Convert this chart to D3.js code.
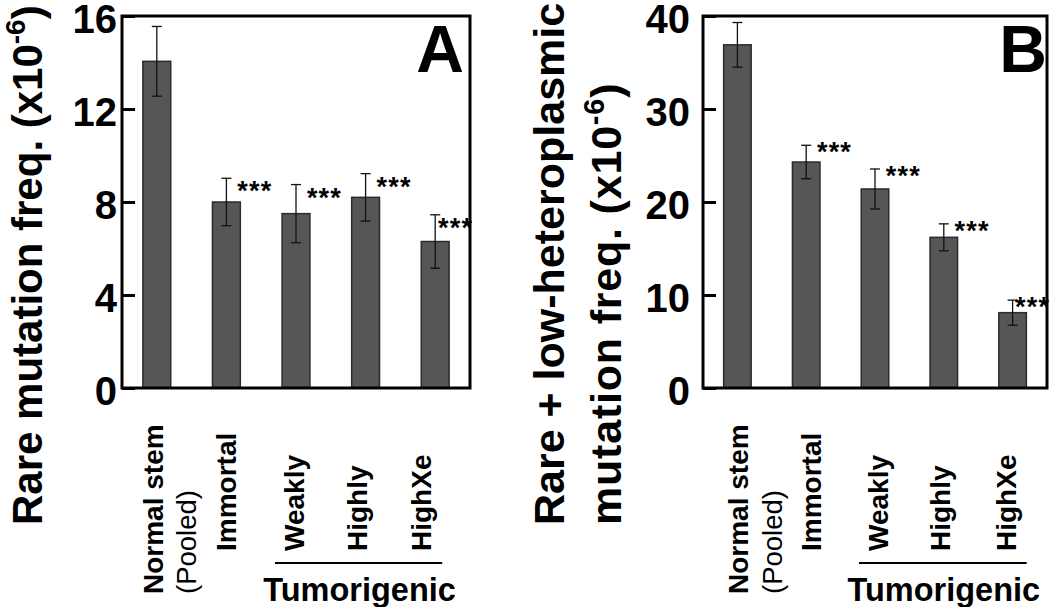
<!DOCTYPE html>
<html>
<head>
<meta charset="utf-8">
<script src="https://cdn.jsdelivr.net/npm/d3@7"></script>
<style>
  html, body { margin: 0; padding: 0; background: #ffffff; }
  svg { display: block; }
  text { font-family: "Liberation Sans", Arial, Helvetica, sans-serif; }
</style>
</head>
<body>
<svg id="chart" width="1050" height="607"></svg>
<script>
// ---------------- data ----------------
const categories = ["Normal stem", "Immortal", "Weakly", "Highly", "HighXe"];
const subLabels = ["(Pooled)", "", "", "", ""];
const groupLabel = "Tumorigenic";
const groupMembers = ["Weakly", "Highly", "HighXe"];

const rareMean = [14.05, 8.0, 7.5, 8.2, 6.3];
const rareErr = [1.5, 1.02, 1.25, 1.02, 1.15];

const combinedMean = [36.9, 24.3, 21.4, 16.2, 8.1];
const combinedErr = [2.4, 1.8, 2.15, 1.45, 1.35];

const significance = ["", "***", "***", "***", "***"];

const ticksA = [0, 4, 8, 12, 16];
const ticksB = [0, 10, 20, 30, 40];

// ---------------- drawing ----------------
const svg = d3.select("#chart");
const FONT = '"Liberation Sans", Arial, Helvetica, sans-serif';
const barFill = "#565658";
const barStroke = "#2b2b2b";

function panel(cfg) {
  const g = svg.append("g");
  const x = d3.scaleBand().domain(categories)
    .range([cfg.left, cfg.right]).paddingInner(0.6).paddingOuter(0.3);
  const y = d3.scaleLinear().domain([0, d3.max(cfg.ticks)]).range([cfg.bottom, cfg.top]);
  const rows = categories.map((c, i) => ({ c, i, m: cfg.mean[i], e: cfg.err[i], s: significance[i] }));

  // bars
  g.selectAll("rect.bar").data(rows).join("rect")
    .attr("class", "bar")
    .attr("x", d => x(d.c))
    .attr("y", d => y(d.m))
    .attr("width", x.bandwidth())
    .attr("height", d => y(0) - y(d.m))
    .attr("fill", barFill)
    .attr("stroke", barStroke)
    .attr("stroke-width", 1.5);

  // error bars
  const cap = 5;
  const eb = g.selectAll("g.err").data(rows).join("g").attr("class", "err")
    .attr("stroke", "#111").attr("stroke-width", 1.3);
  eb.append("line")
    .attr("x1", d => x(d.c) + x.bandwidth() / 2).attr("x2", d => x(d.c) + x.bandwidth() / 2)
    .attr("y1", d => y(d.m + d.e)).attr("y2", d => y(d.m - d.e));
  eb.append("line")
    .attr("x1", d => x(d.c) + x.bandwidth() / 2 - cap).attr("x2", d => x(d.c) + x.bandwidth() / 2 + cap)
    .attr("y1", d => y(d.m + d.e)).attr("y2", d => y(d.m + d.e));
  eb.append("line")
    .attr("x1", d => x(d.c) + x.bandwidth() / 2 - cap).attr("x2", d => x(d.c) + x.bandwidth() / 2 + cap)
    .attr("y1", d => y(d.m - d.e)).attr("y2", d => y(d.m - d.e));

  // significance stars
  g.selectAll("text.sig").data(rows.filter(d => d.s)).join("text")
    .attr("class", "sig")
    .attr("x", d => Math.min(x(d.c) + x.bandwidth() - 3, cfg.right - 32))
    .attr("y", d => y(d.m + d.e) + cfg.starDy + 12)
    .attr("font-size", 27)
    .attr("font-weight", "bold")
    .attr("letter-spacing", 1.2)
    .attr("fill", "#000")
    .text(d => d.s);

  // y axis (ticks pointing inward)
  const axis = d3.axisLeft(y).tickValues(cfg.ticks).tickSizeInner(-13).tickSizeOuter(0)
    .tickPadding(cfg.labelGap).tickFormat(d3.format("d"));
  const ag = g.append("g").attr("transform", `translate(${cfg.left},0)`).call(axis);
  ag.select(".domain").remove();
  ag.selectAll(".tick line").attr("stroke", "#000").attr("stroke-width", 3);
  ag.selectAll(".tick text")
    .attr("font-family", FONT).attr("font-size", 40).attr("font-weight", "bold")
    .attr("fill", "#000").attr("dy", "0.4em");

  // frame
  g.append("rect")
    .attr("x", cfg.left).attr("y", cfg.top)
    .attr("width", cfg.right - cfg.left).attr("height", cfg.bottom - cfg.top)
    .attr("fill", "none").attr("stroke", "#000").attr("stroke-width", 3);

  // panel letter
  g.append("text")
    .attr("x", cfg.letterX).attr("y", 72)
    .attr("text-anchor", "end")
    .attr("font-size", 66).attr("font-weight", "bold")
    .text(cfg.letter);

  // category labels (rotated)
  rows.forEach((d, i) => {
    const bx = x(d.c) + x.bandwidth() / 2 + cfg.labelShift[i];
    const startY = subLabels[i] ? 594 : 551;
    g.append("text")
      .attr("transform", `translate(${bx},${startY}) rotate(-90)`)
      .attr("font-size", 28).attr("font-weight", "bold")
      .text(d.c);
    if (subLabels[i]) {
      g.append("text")
        .attr("transform", `translate(${bx + 33.5},${startY}) rotate(-90)`)
        .attr("font-size", 27.5).attr("font-weight", "normal")
        .text(subLabels[i]);
    }
  });

  // group underline + label
  const firstIdx = categories.indexOf(groupMembers[0]);
  const lastIdx = categories.indexOf(groupMembers[groupMembers.length - 1]);
  const gx1 = x(categories[firstIdx]) + x.bandwidth() / 2 + cfg.labelShift[firstIdx] - 29;
  const gx2 = x(categories[lastIdx]) + x.bandwidth() / 2 + cfg.labelShift[lastIdx] + 11;
  g.append("line")
    .attr("x1", gx1).attr("x2", gx2).attr("y1", 563).attr("y2", 563)
    .attr("stroke", "#000").attr("stroke-width", 2.2);
  g.append("text")
    .attr("x", (gx1 + gx2) / 2 + 1).attr("y", 601)
    .attr("text-anchor", "middle")
    .attr("font-size", 32.5).attr("font-weight", "bold")
    .text(groupLabel);

  // y title
  cfg.titleLines.forEach((line, k) => {
    const t = g.append("text")
      .attr("transform", `translate(${cfg.titleX[k]},525) rotate(-90)`)
      .attr("font-size", line.size).attr("font-weight", "bold")
      .attr("letter-spacing", line.spacing || 0);
    if (line.sup) {
      t.append("tspan").text(line.text);
      t.append("tspan").attr("font-size", Math.round(line.size * 0.67)).attr("dy", -17).text(line.sup);
      t.append("tspan").attr("dy", 17).text(")");
    } else {
      t.text(line.text);
    }
  });
}

panel({
  left: 122, right: 470, top: 16, bottom: 388,
  mean: rareMean, err: rareErr, ticks: ticksA,
  labelGap: 5, letter: "A", letterX: 464, starDy: 10,
  labelShift: [6, 10, 8, 1, -4],
  titleLines: [{ text: "Rare mutation freq. (x10", sup: "-6", size: 42 }],
  titleX: [42]
});

panel({
  left: 703, right: 1047, top: 16, bottom: 388,
  mean: combinedMean, err: combinedErr, ticks: ticksB,
  labelGap: 13, letter: "B", letterX: 1047, starDy: 4,
  labelShift: [11, 15, 13, 6, 3],
  titleLines: [{ text: "Rare + low-heteroplasmic", size: 43 },
               { text: "mutation freq. (x10", sup: "-6", size: 43, spacing: 0.8 }],
  titleX: [564, 621]
});
</script>
</body>
</html>
